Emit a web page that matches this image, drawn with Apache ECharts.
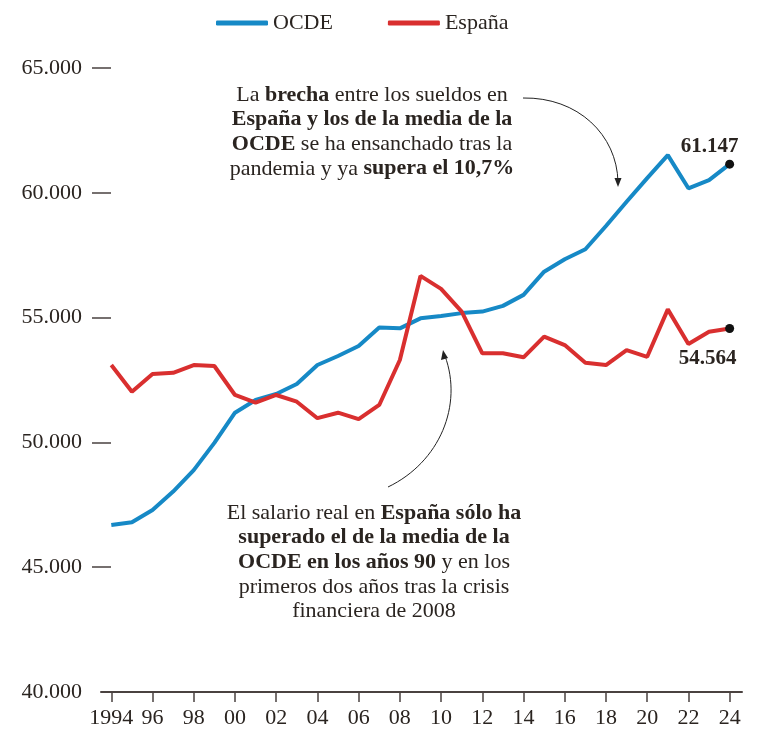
<!DOCTYPE html>
<html>
<head>
<meta charset="utf-8">
<script src="https://cdn.jsdelivr.net/npm/echarts@6/dist/echarts.min.js"></script>
<style>
  html, body { margin: 0; padding: 0; background: #fff; }
  #chart { width: 761px; height: 732px; }
</style>
</head>
<body>
<div id="chart"></div>
<script>
// salario medio anual (dólares constantes), 1994-2024
var years = [1994, 1995, 1996, 1997, 1998, 1999, 2000, 2001, 2002, 2003, 2004,
  2005, 2006, 2007, 2008, 2009, 2010, 2011, 2012, 2013, 2014, 2015, 2016, 2017,
  2018, 2019, 2020, 2021, 2022, 2023, 2024];
var ocde = [46690, 46800, 47290, 48030, 48890, 49980, 51190, 51700, 51940, 52340,
  53100, 53460, 53860, 54600, 54570, 54970, 55060, 55180, 55240, 55470, 55910,
  56840, 57340, 57740, 58670, 59640, 60590, 61510, 60180, 60510, 61147];
var espana = [53100, 52030, 52740, 52790, 53100, 53060, 51900, 51590, 51900, 51630,
  50970, 51190, 50930, 51500, 53300, 56670, 56150, 55240, 53570, 53570, 53410,
  54240, 53900, 53190, 53100, 53700, 53430, 55330, 53940, 54430, 54564];
var xTicks = [1994, 1996, 1998, 2000, 2002, 2004, 2006, 2008, 2010, 2012, 2014,
  2016, 2018, 2020, 2022, 2024];
var yTicks = [45000, 50000, 55000, 60000, 65000];

var FONT = "'Liberation Serif', 'DejaVu Serif', serif";
var INK = "#2a2420";
var BLUE = "#1689c6";
var RED = "#d92f2f";

function miles(v) {
  return String(v).replace(/\B(?=(\d{3})+(?!\d))/g, ".");
}

function buildData(values, labelOpt) {
  var out = values.map(function (v, i) { return [years[i], v]; });
  var last = out.length - 1;
  out[last] = {
    value: out[last],
    symbol: "circle",
    symbolSize: 9,
    itemStyle: { color: "#111" },
    label: Object.assign({
      show: true,
      formatter: function (p) { return miles(p.value[1]); },
      fontFamily: FONT,
      fontSize: 21,
      fontWeight: "bold",
      color: INK,
    }, labelOpt),
  };
  return out;
}

var chart = echarts.init(document.getElementById("chart"));

var txt = { fontFamily: FONT, fontSize: 22, color: INK, lineHeight: 24.5 };
var rich = {
  n: Object.assign({}, txt),
  b: Object.assign({ fontWeight: "bold" }, txt),
};

var opt = {
  animation: false,
  legend: {
    left: 211,
    top: 7,
    icon: "roundRect",
    itemWidth: 52,
    itemHeight: 5,
    itemGap: 55,
    textStyle: { fontFamily: FONT, fontSize: 22, color: INK },
    data: ["OCDE", "España"],
  },
  grid: { left: 101, right: 19, top: 68, bottom: 40, containLabel: false },
  xAxis: {
    type: "value",
    min: 1993.5,
    max: 2024.6,
    splitLine: { show: false },
    axisLine: { lineStyle: { color: "#4a4240", width: 2 } },
    axisTick: {
      customValues: xTicks,
      length: 10,
      lineStyle: { color: "#4a4240", width: 1.5 },
    },
    axisLabel: {
      customValues: xTicks,
      margin: 15,
      fontFamily: FONT,
      fontSize: 22,
      color: INK,
      formatter: function (v) {
        return v === 1994 ? "1994" : String(v).slice(2);
      },
    },
  },
  yAxis: {
    type: "value",
    min: 40000,
    max: 65000,
    interval: 5000,
    offset: -10,
    splitLine: { show: false },
    axisLine: { show: false },
    axisTick: {
      show: true,
      customValues: yTicks,
      length: 19,
      lineStyle: { color: "#4a4240", width: 1.5 },
    },
    axisLabel: {
      margin: 29,
      fontFamily: FONT,
      fontSize: 22,
      color: INK,
      formatter: miles,
    },
  },
  series: [
    {
      name: "OCDE",
      type: "line",
      symbol: "none",
      color: BLUE,
      lineStyle: { width: 4, color: BLUE },
      z: 3,
      data: buildData(ocde, { position: "top", offset: [-20, -1], distance: 2 }),
    },
    {
      name: "España",
      type: "line",
      symbol: "none",
      color: RED,
      lineStyle: { width: 4, color: RED },
      z: 4,
      data: buildData(espana, { position: "bottom", offset: [-22, 13], distance: 2 }),
    },
  ],
  graphic: [
    {
      type: "text",
      x: 372,
      y: 83,
      style: {
        text: "{n|La }{b|brecha}{n| entre los sueldos en}\n" +
          "{b|España y los de la media de la}\n" +
          "{b|OCDE}{n| se ha ensanchado tras la}\n" +
          "{n|pandemia y ya }{b|supera el 10,7%}",
        rich: rich,
        align: "center",
        verticalAlign: "top",
        fontFamily: FONT,
        fontSize: 22,
        lineHeight: 24.5,
        fill: INK,
      },
    },
    {
      type: "text",
      x: 374,
      y: 501,
      style: {
        text: "{n|El salario real en }{b|España sólo ha}\n" +
          "{b|superado el de la media de la}\n" +
          "{b|OCDE en los años 90}{n| y en los}\n" +
          "{n|primeros dos años tras la crisis}\n" +
          "{n|financiera de 2008}",
        rich: rich,
        align: "center",
        verticalAlign: "top",
        fontFamily: FONT,
        fontSize: 22,
        lineHeight: 24.3,
        fill: INK,
      },
    },
    // flecha superior
    {
      type: "bezierCurve",
      shape: { x1: 523, y1: 98, cpx1: 578, cpy1: 97, cpx2: 617, cpy2: 135, x2: 618, y2: 182 },
      style: { stroke: "#222", lineWidth: 1, fill: null },
    },
    {
      type: "polygon",
      shape: { points: [[614.5, 178], [621.5, 178], [618, 187]] },
      style: { fill: "#222" },
    },
    // flecha inferior
    {
      type: "bezierCurve",
      shape: { x1: 388, y1: 487, cpx1: 440, cpy1: 462, cpx2: 463, cpy2: 405, x2: 445, y2: 356 },
      style: { stroke: "#222", lineWidth: 1, fill: null },
    },
    {
      type: "polygon",
      shape: { points: [[441, 360], [448, 358], [443, 350]] },
      style: { fill: "#222" },
    },
  ],
};

chart.setOption(opt);
</script>
</body>
</html>
